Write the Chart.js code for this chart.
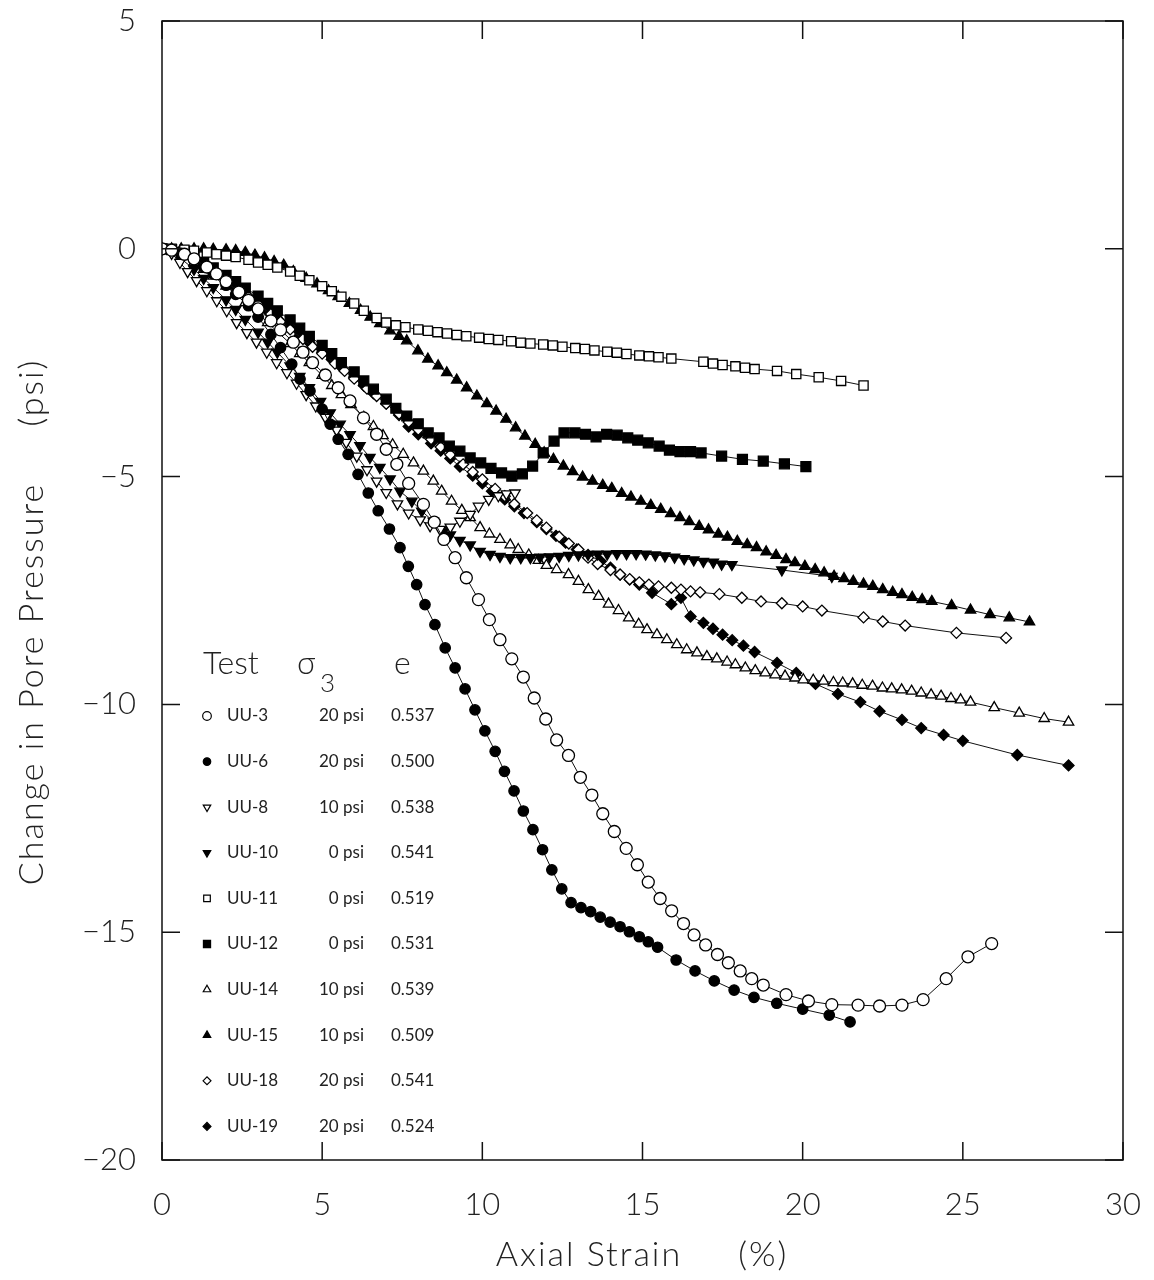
<!DOCTYPE html>
<html>
<head>
<meta charset="utf-8">
<script src="https://cdn.jsdelivr.net/npm/chart.js@4/dist/chart.umd.min.js"></script>
<style>
html,body{margin:0;padding:0;background:#fff;}
</style>
</head>
<body>
<canvas id="myChart" width="1154" height="1280"></canvas>
<script>
// axial strain (%) , change in pore pressure (psi)
var uu3=[[0,0],[0.3,-0.03],[0.7,-0.12],[1.0,-0.22],[1.4,-0.4],[1.7,-0.55],[2.0,-0.72],[2.4,-0.95],[2.7,-1.13],[3.0,-1.32],[3.4,-1.58],[3.7,-1.78],[4.1,-2.05],[4.4,-2.27],[4.7,-2.5],[5.1,-2.77],[5.5,-3.05],[5.87,-3.34],[6.29,-3.71],[6.7,-4.07],[7.0,-4.4],[7.33,-4.73],[7.7,-5.15],[8.16,-5.61],[8.5,-6.0],[8.8,-6.38],[9.15,-6.78],[9.5,-7.22],[9.88,-7.7],[10.22,-8.14],[10.55,-8.58],[10.92,-9.0],[11.28,-9.4],[11.62,-9.86],[11.98,-10.32],[12.32,-10.78],[12.69,-11.12],[13.06,-11.6],[13.42,-11.99],[13.76,-12.4],[14.12,-12.79],[14.49,-13.16],[14.84,-13.52],[15.18,-13.9],[15.55,-14.26],[15.91,-14.53],[16.28,-14.81],[16.61,-15.06],[16.97,-15.28],[17.34,-15.49],[17.68,-15.67],[18.05,-15.85],[18.41,-16.02],[18.77,-16.16],[19.48,-16.37],[20.18,-16.51],[20.91,-16.59],[21.73,-16.6],[22.4,-16.62],[23.1,-16.6],[23.76,-16.48],[24.48,-16.02],[25.16,-15.54],[25.9,-15.25]];
var uu6=[[0,0],[0.3,-0.02],[0.6,-0.1],[1.0,-0.25],[1.3,-0.4],[1.6,-0.55],[2.0,-0.8],[2.3,-1.0],[2.7,-1.25],[3.0,-1.5],[3.4,-1.88],[3.7,-2.17],[4.05,-2.53],[4.31,-2.86],[4.62,-3.12],[5.0,-3.52],[5.25,-3.85],[5.5,-4.18],[5.81,-4.51],[6.12,-4.95],[6.44,-5.36],[6.75,-5.75],[7.1,-6.15],[7.43,-6.56],[7.69,-6.97],[7.95,-7.37],[8.21,-7.81],[8.52,-8.25],[8.84,-8.76],[9.15,-9.2],[9.46,-9.66],[9.77,-10.12],[10.08,-10.58],[10.4,-11.03],[10.69,-11.47],[10.99,-11.9],[11.28,-12.34],[11.58,-12.75],[11.88,-13.19],[12.17,-13.63],[12.48,-14.05],[12.77,-14.35],[13.08,-14.46],[13.38,-14.55],[13.68,-14.67],[13.99,-14.78],[14.3,-14.88],[14.59,-14.99],[14.9,-15.1],[15.18,-15.21],[15.47,-15.33],[16.05,-15.61],[16.64,-15.85],[17.24,-16.07],[17.86,-16.27],[18.48,-16.43],[19.19,-16.56],[20.0,-16.69],[20.83,-16.82],[21.48,-16.97]];
var uu8=[[0,0],[0.3,-0.1],[0.56,-0.3],[0.8,-0.5],[1.08,-0.7],[1.4,-0.92],[1.71,-1.14],[2.02,-1.36],[2.33,-1.62],[2.65,-1.84],[2.95,-2.05],[3.27,-2.27],[3.58,-2.5],[3.9,-2.72],[4.2,-2.95],[4.5,-3.2],[4.8,-3.45],[5.1,-3.7],[5.45,-3.98],[5.75,-4.25],[6.08,-4.55],[6.4,-4.85],[6.7,-5.1],[7.0,-5.35],[7.35,-5.6],[7.7,-5.8],[8.06,-5.95],[8.37,-6.08],[8.68,-6.16],[9.0,-6.11],[9.3,-5.98],[9.62,-5.83],[9.88,-5.65],[10.2,-5.5],[10.5,-5.42],[10.75,-5.38],[11.02,-5.36]];
var uu10=[[0,0],[0.3,-0.08],[0.6,-0.22],[1.0,-0.45],[1.3,-0.65],[1.6,-0.85],[2.0,-1.12],[2.3,-1.33],[2.6,-1.55],[3.0,-1.83],[3.3,-2.05],[3.6,-2.27],[4.0,-2.57],[4.3,-2.8],[4.6,-3.05],[4.95,-3.35],[5.25,-3.6],[5.56,-3.85],[5.87,-4.08],[6.18,-4.32],[6.49,-4.58],[6.8,-4.8],[7.12,-5.05],[7.43,-5.32],[7.8,-5.54],[8.11,-5.76],[8.47,-5.98],[8.8,-6.18],[9.0,-6.28],[9.3,-6.4],[9.62,-6.5],[9.93,-6.64],[10.24,-6.71],[10.55,-6.75],[10.87,-6.78],[11.2,-6.78],[11.5,-6.78],[11.8,-6.77],[12.1,-6.76],[12.4,-6.75],[12.7,-6.73],[13.0,-6.72],[13.3,-6.71],[13.6,-6.7],[13.9,-6.7],[14.2,-6.69],[14.5,-6.69],[14.8,-6.69],[15.1,-6.7],[15.4,-6.72],[15.7,-6.74],[16.0,-6.77],[16.3,-6.8],[16.6,-6.83],[16.9,-6.86],[17.21,-6.88],[17.47,-6.92],[17.79,-6.93],[19.35,-7.05],[20.91,-7.19]];
var uu11=[[0,0],[0.3,0],[0.7,-0.02],[1.0,-0.04],[1.4,-0.08],[1.7,-0.12],[2.0,-0.15],[2.3,-0.18],[2.7,-0.24],[3.0,-0.3],[3.3,-0.35],[3.6,-0.41],[4.0,-0.5],[4.3,-0.59],[4.6,-0.69],[5.0,-0.82],[5.3,-0.93],[5.6,-1.05],[6.0,-1.2],[6.3,-1.36],[6.7,-1.52],[7.0,-1.62],[7.3,-1.68],[7.6,-1.72],[8.0,-1.77],[8.3,-1.8],[8.6,-1.83],[8.9,-1.86],[9.2,-1.89],[9.5,-1.92],[9.9,-1.95],[10.2,-1.98],[10.5,-2.0],[10.9,-2.03],[11.2,-2.06],[11.5,-2.08],[11.9,-2.1],[12.2,-2.12],[12.5,-2.15],[12.9,-2.18],[13.2,-2.2],[13.5,-2.23],[13.9,-2.26],[14.2,-2.28],[14.5,-2.31],[14.9,-2.34],[15.2,-2.36],[15.5,-2.38],[15.9,-2.41],[16.9,-2.48],[17.2,-2.52],[17.5,-2.55],[17.9,-2.58],[18.2,-2.61],[18.5,-2.64],[19.2,-2.68],[19.8,-2.75],[20.5,-2.82],[21.2,-2.9],[21.9,-3.0]];
var uu12=[[0,0],[0.3,-0.02],[0.6,-0.08],[1.0,-0.18],[1.3,-0.3],[1.6,-0.42],[2.0,-0.58],[2.3,-0.72],[2.6,-0.86],[3.0,-1.04],[3.3,-1.2],[3.6,-1.36],[4.0,-1.56],[4.3,-1.74],[4.6,-1.92],[5.0,-2.12],[5.3,-2.3],[5.6,-2.5],[6.0,-2.7],[6.3,-2.9],[6.6,-3.08],[7.0,-3.3],[7.3,-3.5],[7.64,-3.67],[8.0,-3.84],[8.31,-4.04],[8.65,-4.15],[8.97,-4.33],[9.3,-4.44],[9.62,-4.59],[9.95,-4.7],[10.27,-4.82],[10.6,-4.92],[10.92,-4.99],[11.25,-4.94],[11.57,-4.77],[11.9,-4.48],[12.24,-4.22],[12.55,-4.04],[12.89,-4.04],[13.22,-4.07],[13.55,-4.13],[13.88,-4.07],[14.21,-4.09],[14.54,-4.15],[14.85,-4.2],[15.18,-4.26],[15.52,-4.33],[15.84,-4.42],[16.17,-4.45],[16.5,-4.45],[16.83,-4.48],[17.47,-4.55],[18.12,-4.62],[18.77,-4.66],[19.43,-4.72],[20.1,-4.78]];
var uu14=[[0,0],[0.3,-0.05],[0.6,-0.15],[1.0,-0.3],[1.3,-0.45],[1.6,-0.6],[2.0,-0.82],[2.3,-1.0],[2.6,-1.18],[3.0,-1.42],[3.3,-1.62],[3.6,-1.82],[4.0,-2.08],[4.3,-2.3],[4.6,-2.5],[5.0,-2.78],[5.3,-3.0],[5.6,-3.2],[5.9,-3.42],[6.3,-3.7],[6.6,-3.9],[6.9,-4.1],[7.2,-4.3],[7.53,-4.51],[7.85,-4.7],[8.16,-4.88],[8.47,-5.1],[8.73,-5.32],[9.04,-5.54],[9.36,-5.74],[9.62,-5.9],[9.93,-6.12],[10.22,-6.26],[10.55,-6.38],[10.87,-6.5],[11.12,-6.6],[11.45,-6.72],[11.75,-6.84],[12.0,-6.95],[12.32,-7.04],[12.69,-7.15],[13.0,-7.3],[13.31,-7.48],[13.63,-7.63],[13.94,-7.8],[14.25,-7.94],[14.57,-8.1],[14.88,-8.24],[15.14,-8.36],[15.45,-8.47],[15.76,-8.58],[16.07,-8.69],[16.38,-8.8],[16.7,-8.87],[17.01,-8.95],[17.32,-9.0],[17.64,-9.07],[17.9,-9.13],[18.21,-9.2],[18.52,-9.26],[18.83,-9.31],[19.14,-9.35],[19.45,-9.38],[19.76,-9.42],[20.02,-9.46],[20.33,-9.47],[20.65,-9.49],[20.96,-9.52],[21.25,-9.53],[21.56,-9.55],[21.86,-9.58],[22.18,-9.6],[22.49,-9.64],[22.78,-9.66],[23.09,-9.68],[23.4,-9.71],[23.7,-9.75],[24.01,-9.79],[24.32,-9.82],[24.63,-9.87],[24.93,-9.9],[25.24,-9.95],[25.98,-10.07],[26.76,-10.19],[27.54,-10.31],[28.3,-10.39]];
var uu15=[[0,0],[0.3,0],[0.6,0],[1.0,0],[1.3,0],[1.6,-0.01],[2.0,-0.02],[2.3,-0.04],[2.6,-0.08],[2.9,-0.14],[3.2,-0.2],[3.5,-0.28],[3.8,-0.36],[4.1,-0.5],[4.5,-0.65],[4.84,-0.77],[5.2,-0.92],[5.5,-1.05],[5.85,-1.2],[6.2,-1.35],[6.5,-1.5],[6.8,-1.64],[7.12,-1.8],[7.4,-1.92],[7.64,-2.02],[7.99,-2.24],[8.3,-2.42],[8.62,-2.57],[8.89,-2.72],[9.2,-2.88],[9.51,-3.05],[9.83,-3.23],[10.14,-3.4],[10.43,-3.56],[10.74,-3.74],[11.04,-3.93],[11.33,-4.11],[11.65,-4.29],[11.93,-4.48],[12.22,-4.62],[12.53,-4.77],[12.82,-4.89],[13.13,-5.01],[13.44,-5.1],[13.76,-5.19],[14.04,-5.26],[14.35,-5.37],[14.64,-5.45],[14.95,-5.54],[15.26,-5.63],[15.57,-5.72],[15.88,-5.81],[16.17,-5.9],[16.46,-5.99],[16.77,-6.09],[17.06,-6.17],[17.37,-6.26],[17.65,-6.33],[17.96,-6.42],[18.27,-6.49],[18.56,-6.56],[18.86,-6.65],[19.17,-6.73],[19.48,-6.82],[19.76,-6.89],[20.07,-6.97],[20.39,-7.04],[20.67,-7.11],[20.98,-7.19],[21.29,-7.24],[21.58,-7.3],[21.9,-7.36],[22.19,-7.41],[22.5,-7.48],[22.81,-7.54],[23.1,-7.59],[23.42,-7.65],[23.73,-7.7],[24.03,-7.74],[24.65,-7.83],[25.24,-7.93],[25.85,-8.03],[26.45,-8.1],[27.08,-8.19]];
var uu18=[[0,0],[0.3,-0.03],[0.7,-0.12],[1.0,-0.22],[1.4,-0.4],[1.7,-0.55],[2.0,-0.7],[2.4,-0.9],[2.7,-1.05],[3.0,-1.22],[3.4,-1.43],[3.7,-1.6],[4.0,-1.77],[4.4,-1.98],[4.7,-2.15],[5.0,-2.3],[5.4,-2.52],[5.7,-2.68],[6.0,-2.85],[6.4,-3.07],[6.7,-3.23],[7.0,-3.4],[7.4,-3.62],[7.7,-3.8],[8.0,-3.97],[8.4,-4.18],[8.7,-4.35],[9.0,-4.52],[9.4,-4.73],[9.7,-4.9],[10.0,-5.06],[10.4,-5.27],[10.7,-5.43],[11.0,-5.6],[11.4,-5.8],[11.7,-5.96],[12.0,-6.12],[12.4,-6.32],[12.7,-6.47],[13.0,-6.6],[13.3,-6.78],[13.6,-6.92],[14.0,-7.05],[14.3,-7.15],[14.6,-7.25],[14.9,-7.32],[15.2,-7.37],[15.5,-7.41],[15.9,-7.44],[16.2,-7.48],[16.5,-7.52],[16.8,-7.54],[17.4,-7.58],[18.1,-7.66],[18.7,-7.74],[19.35,-7.78],[20.0,-7.85],[20.6,-7.94],[21.9,-8.09],[22.5,-8.18],[23.2,-8.27],[24.8,-8.43],[26.35,-8.54]];
var uu19=[[0,0],[0.3,-0.03],[0.6,-0.1],[1.0,-0.25],[1.3,-0.38],[1.6,-0.52],[2.0,-0.7],[2.3,-0.85],[2.6,-1.0],[3.0,-1.2],[3.3,-1.37],[3.6,-1.53],[4.0,-1.73],[4.3,-1.9],[4.6,-2.06],[5.0,-2.27],[5.3,-2.43],[5.6,-2.6],[6.0,-2.82],[6.3,-3.0],[6.6,-3.17],[7.0,-3.4],[7.4,-3.65],[7.7,-3.9],[8.0,-4.07],[8.4,-4.27],[8.7,-4.43],[9.0,-4.6],[9.3,-4.78],[9.7,-4.98],[10.0,-5.15],[10.3,-5.32],[10.7,-5.5],[11.0,-5.65],[11.3,-5.8],[11.7,-6.0],[12.0,-6.15],[12.3,-6.3],[12.6,-6.45],[12.95,-6.6],[13.3,-6.72],[13.7,-6.86],[14.0,-7.0],[14.3,-7.15],[14.6,-7.26],[14.9,-7.37],[15.3,-7.55],[15.9,-7.8],[16.2,-7.66],[16.5,-8.07],[16.9,-8.21],[17.2,-8.34],[17.5,-8.47],[17.8,-8.59],[18.15,-8.71],[18.5,-8.85],[19.2,-9.09],[19.8,-9.31],[20.4,-9.55],[21.1,-9.77],[21.8,-9.95],[22.4,-10.15],[23.1,-10.34],[23.7,-10.52],[24.4,-10.67],[25.0,-10.8],[26.7,-11.11],[28.3,-11.34]];

var testNames=['UU-3','UU-6','UU-8','UU-10','UU-11','UU-12','UU-14','UU-15','UU-18','UU-19'];
var sigma3=['20 psi','20 psi','10 psi','0 psi','0 psi','0 psi','10 psi','10 psi','20 psi','20 psi'];
var voidRatio=['0.537','0.500','0.538','0.541','0.519','0.531','0.539','0.509','0.541','0.524'];
var xTicks=[0,5,10,15,20,25,30];
var yTicks=[5,0,-5,-10,-15,-20];

var allData=[uu3,uu6,uu8,uu10,uu11,uu12,uu14,uu15,uu18,uu19];
var markers=[
  {style:'circle',rot:0,fill:false,r:6},
  {style:'circle',rot:0,fill:true,r:5.2},
  {style:'triangle',rot:180,fill:false,r:6},
  {style:'triangle',rot:180,fill:true,r:6},
  {style:'rect',rot:0,fill:false,r:6.5},
  {style:'rect',rot:0,fill:true,r:7},
  {style:'triangle',rot:0,fill:false,r:6},
  {style:'triangle',rot:0,fill:true,r:6},
  {style:'rectRot',rot:0,fill:false,r:5.5},
  {style:'rectRot',rot:0,fill:true,r:5.5}
];

var FONT='Lato, "DejaVu Sans", sans-serif';

var datasets=allData.map(function(d,i){
  var m=markers[i];
  return {
    label:testNames[i],
    data:d.map(function(p){return {x:p[0],y:p[1]};}),
    showLine:true,
    borderColor:'#111',
    borderWidth:1,
    pointStyle:m.style,
    rotation:m.rot,
    pointRadius:m.r,
    pointBorderWidth:1.3,
    pointBorderColor:'#000',
    pointBackgroundColor:m.fill?'#000':'#fff'
  };
});

var frame={
  id:'frame',
  afterDraw:function(chart){
    var ctx=chart.ctx, a=chart.chartArea, xs=chart.scales.x, ys=chart.scales.y;
    ctx.save();
    ctx.strokeStyle='#111';
    ctx.lineWidth=1.5;
    ctx.strokeRect(a.left,a.top,a.right-a.left,a.bottom-a.top);
    ctx.beginPath();
    xTicks.forEach(function(v){
      var px=xs.getPixelForValue(v);
      ctx.moveTo(px,a.bottom);ctx.lineTo(px,a.bottom-18);
      ctx.moveTo(px,a.top);ctx.lineTo(px,a.top+18);
    });
    yTicks.forEach(function(v){
      var py=ys.getPixelForValue(v);
      ctx.moveTo(a.left,py);ctx.lineTo(a.left+18,py);
      ctx.moveTo(a.right,py);ctx.lineTo(a.right-18,py);
    });
    ctx.stroke();

    // axis titles
    ctx.fillStyle='#222';
    ctx.font='300 34px '+FONT;
    ctx.letterSpacing='2px';
    ctx.textAlign='center';ctx.textBaseline='middle';
    ctx.fillText('Axial Strain     (%)',642,1255);
    ctx.save();
    ctx.translate(32,622);ctx.rotate(-Math.PI/2);
    ctx.fillText('Change in Pore Pressure     (psi)',0,0);
    ctx.restore();
    ctx.letterSpacing='0px';

    // legend
    ctx.textAlign='left';
    ctx.font='300 32px '+FONT;
    ctx.fillText('Test',203,664);
    ctx.fillText('\u03c3',297,664);
    ctx.font='300 26px '+FONT;
    ctx.fillText('3',320,684);
    ctx.font='300 32px '+FONT;
    ctx.fillText('e',394,664);
    ctx.font='17px '+FONT;
    for(var i=0;i<testNames.length;i++){
      var yy=716+i*45.6;
      var m=markers[i];
      ctx.fillStyle=m.fill?'#000':'#fff';
      ctx.strokeStyle='#000';
      ctx.lineWidth=1.2;
      Chart.helpers.drawPoint(ctx,{pointStyle:m.style,rotation:m.rot,radius:m.r*0.72,borderWidth:1.2},207,yy);
      ctx.fillStyle='#222';
      ctx.textAlign='left';
      ctx.fillText(testNames[i],227,yy);
      ctx.textAlign='right';
      ctx.fillText(sigma3[i],364,yy);
      ctx.textAlign='left';
      ctx.fillText(voidRatio[i],391,yy);
    }
    ctx.restore();
  }
};

var ctx=document.getElementById('myChart').getContext('2d');
var myChart=new Chart(ctx,{
  type:'scatter',
  data:{datasets:datasets},
  options:{
    responsive:false,
    animation:false,
    devicePixelRatio:1,
    layout:{padding:{top:21,right:31,left:0,bottom:0}},
    plugins:{legend:{display:false},tooltip:{enabled:false}},
    scales:{
      x:{
        type:'linear',min:0,max:30,
        afterFit:function(s){s.height=120;s.paddingLeft=0;s.paddingRight=0;},
        afterBuildTicks:function(s){s.ticks=xTicks.map(function(v){return {value:v};});},
        grid:{display:false},border:{display:false},
        ticks:{padding:18,color:'#222',font:{family:FONT,size:31,weight:'300'},maxRotation:0}
      },
      y:{
        type:'linear',min:-20,max:5,
        afterFit:function(s){s.width=162;s.paddingTop=0;s.paddingBottom=0;},
        afterBuildTicks:function(s){s.ticks=yTicks.map(function(v){return {value:v};});},
        grid:{display:false},border:{display:false},
        ticks:{padding:18,color:'#222',font:{family:FONT,size:31,weight:'300'},
          callback:function(v){return v<0?'\u2212'+Math.abs(v):String(v);}}
      }
    }
  },
  plugins:[frame]
});
</script>
</body>
</html>
